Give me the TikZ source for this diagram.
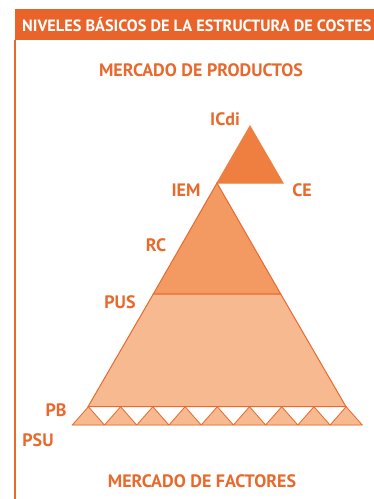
\documentclass[tikz,border=0pt]{standalone}
\usepackage{fontspec}
\setmainfont{PT Sans}
\usepackage{tikz}
\usetikzlibrary{arrows,positioning,calc}
\definecolor{cabecera}{HTML}{E8642A}
\definecolor{naranja}{HTML}{E8692C}
\definecolor{nivelA}{HTML}{EE7F40}
\definecolor{nivelB}{HTML}{F29A62}
\definecolor{nivelC}{HTML}{F6B990}
\tikzset{font=\bfseries\fontsize{18}{20}\selectfont}
\tikzstyle{etiq}=[text=naranja,inner sep=0pt]
\tikzstyle{borde}=[draw=naranja,line width=1pt,line join=miter]

\begin{document}
\begin{tikzpicture}[x=1pt,y=-1pt]
\useasboundingbox (0,0) rectangle (374,499);
% cabecera
\fill[cabecera] (15,9) rectangle (374,40);
\node[text=white,inner sep=0pt,anchor=west,font=\bfseries\fontsize{16.3}{18}\selectfont] (T) at (22,25) {NIVELES BÁSICOS DE LA ESTRUCTURA DE COSTES};
\draw[naranja,line width=1.5pt] (15,40) -- (15,499);
% mercados
\node[etiq] (MP) at (201,70) {MERCADO DE PRODUCTOS};
\node[etiq] (MF) at (202,481) {MERCADO DE FACTORES};
% piramide
\coordinate (ic) at (250,126);
\coordinate (icl) at (217,183);
\coordinate (icr) at (283,183);
\coordinate (pl) at (88,406.7);
\coordinate (pr) at (346,406.7);
\coordinate (rcl) at (153.3,294);
\coordinate (rcr) at (280.7,294);
\filldraw[borde,fill=nivelA,draw=nivelA] (ic) -- (icl) -- (icr) -- cycle;
\filldraw[borde,fill=nivelB] (icl) -- (rcl) -- (rcr) -- cycle;
\filldraw[borde,fill=nivelC] (rcl) -- (pl) -- (pr) -- (rcr) -- cycle;
% dientes
\foreach \i in {0,...,8}{
  \filldraw[fill=nivelC,draw=naranja,line width=0.8pt]
    ({72.3+32.22*\i},425) -- ({88.4+32.22*\i},406.7) -- ({104.5+32.22*\i},425) -- cycle;
}
\draw[naranja,line width=1pt] (pl) -- (pr);
\draw[nivelC,line width=1pt] (72.3,425) -- (362.3,425);
% niveles
\node[etiq] (ICdi) at (225,119) {ICdi};
\node[etiq] (IEM) at (186,190) {IEM};
\node[etiq] (CE) at (302,190) {CE};
\node[etiq] (RC) at (156,245) {RC};
\node[etiq] (PUS) at (120,302) {PUS};
\node[etiq] (PB) at (56,410) {PB};
\node[etiq] (PSU) at (38,440) {PSU};
\end{tikzpicture}
\end{document}
